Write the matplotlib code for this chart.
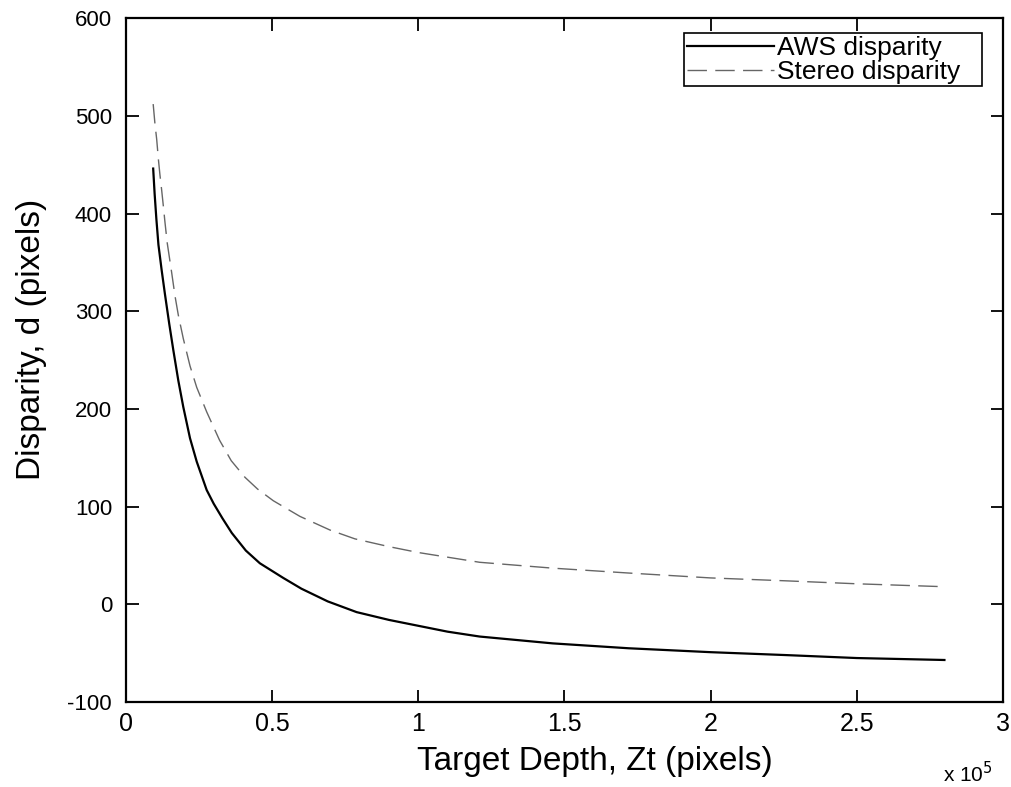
import numpy as np
import matplotlib
matplotlib.use("Agg")
import matplotlib.pyplot as plt
from matplotlib.ticker import FuncFormatter

plt.rcParams['font.family'] = ['Liberation Sans', 'DejaVu Sans']

# values (x in units of 1e5 pixels)
aws_x = [0.093, 0.098, 0.104, 0.111, 0.122, 0.133, 0.148, 0.162, 0.179, 0.196,
         0.219, 0.242, 0.276, 0.30, 0.33, 0.362, 0.41, 0.458, 0.538, 0.60,
         0.69, 0.789, 0.9, 1.0, 1.1, 1.21, 1.46, 1.72, 2.0, 2.26, 2.5, 2.8]
aws_d = [446, 420, 394, 368, 342, 318, 287, 260, 229, 202,
         170, 146, 117, 103, 88, 73, 55, 42, 27, 16,
         3, -8, -16, -22, -28, -33, -40, -45, -49, -52, -55, -57]

stereo_x = [0.093, 0.099, 0.105, 0.111, 0.116, 0.122, 0.128, 0.133, 0.141,
            0.156, 0.168, 0.179, 0.196, 0.219, 0.242, 0.276, 0.32, 0.36,
            0.407, 0.45, 0.504, 0.595, 0.698, 0.783, 0.9, 1.0, 1.21, 1.46,
            1.72, 2.0, 2.26, 2.5, 2.8]
stereo_d = [512, 492, 476, 455, 440, 424, 407, 392, 370,
            340, 315, 296, 272, 244, 222, 197, 168, 147,
            130, 118, 106, 90, 76, 67, 59, 53, 43, 37,
            32, 27, 24, 21, 18]

x_ticks = [0, 0.5, 1, 1.5, 2, 2.5, 3]
y_ticks = [-100, 0, 100, 200, 300, 400, 500, 600]

fig = plt.figure(figsize=(10.12, 7.87), dpi=100)
ax = fig.add_axes([0.1245, 0.108, 0.8665, 0.869])

scale = 1e5
ax.plot(np.array(aws_x) * scale, aws_d, color='black', lw=1.6,
        solid_joinstyle='round', label='AWS disparity')
ax.plot(np.array(stereo_x) * scale, stereo_d, color='#666666', lw=1.0,
        dashes=(14, 6), label='Stereo disparity')

ax.set_xlim(0, 3 * scale)
ax.set_ylim(-100, 600)
ax.set_xticks([t * scale for t in x_ticks])
ax.xaxis.set_major_formatter(FuncFormatter(lambda v, p: ('%g' % (v / scale))))
ax.set_yticks(y_ticks)
ax.yaxis.set_major_formatter(FuncFormatter(lambda v, p: '%d' % v))

ax.tick_params(direction='in', length=9, width=1.3, top=True, right=True)
ax.tick_params(axis='x', labelsize=18, pad=7)
ax.tick_params(axis='y', labelsize=16, pad=10)
for s in ax.spines.values():
    s.set_linewidth(1.6)

ax.set_xlabel('Target Depth, Zt (pixels)', fontsize=24, va='top')
ax.xaxis.set_label_coords(0.535, -0.065, transform=ax.transAxes)
ax.set_ylabel('Disparity, d (pixels)', fontsize=24)
ax.yaxis.set_label_coords(-0.09, 0.53, transform=ax.transAxes)
ax.text(0.988, -0.086, 'x 10$^5$', transform=ax.transAxes, fontsize=15,
        ha='right', va='top')

# legend box stretched to the reference's width
leg = ax.legend(loc='upper left', fontsize=19, frameon=True, fancybox=False,
                framealpha=1, edgecolor='black', handlelength=3.3,
                borderaxespad=0.0, borderpad=0.1, handletextpad=0.1,
                labelspacing=0.0, mode='expand',
                bbox_to_anchor=(0.6365, 0.5, 0.34, 0.478))
leg.get_frame().set_linewidth(1.2)

fig.savefig('out.png', dpi=100)
